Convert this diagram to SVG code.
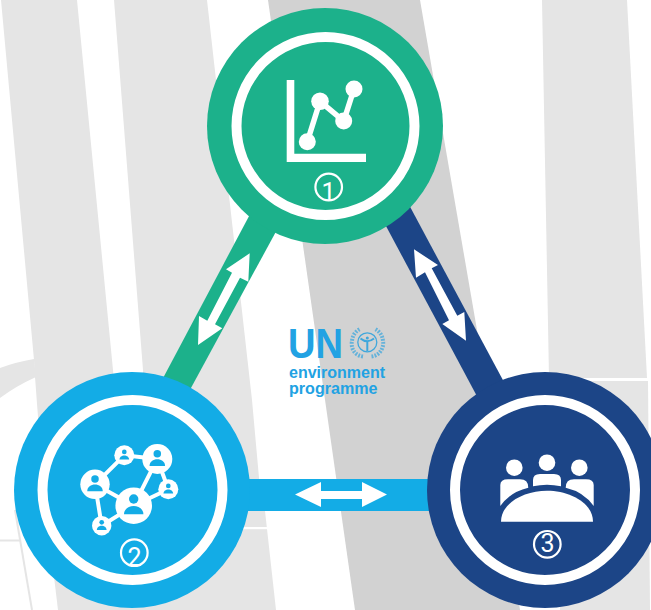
<svg xmlns="http://www.w3.org/2000/svg" width="651" height="610" viewBox="0 0 651 610">
<style>
.lg{fill:#e5e5e5}.dg{fill:#d2d2d2}
.ring{fill:none;stroke:#fff;stroke-width:10}
.w{fill:#fff}
.ln{stroke:#fff;fill:none}
.numc{fill:none;stroke:#fff;stroke-width:2.200}
.num{font-family:"Roboto","Liberation Sans",sans-serif;font-weight:400;font-size:25px;fill:#fff;text-anchor:middle}
.logo{font-family:"Liberation Sans",Arial,sans-serif;font-weight:700;fill:#22a2e3}
.em{fill:none;stroke:#3fa7dc}
</style>
<defs>
<g id="person"><circle cx="0" cy="-6.7" r="4.7" fill="#13ace6"/><path d="M-9.7 8.6C-9.7 3.4-5 .3 0 .3S9.7 3.4 9.7 8.6Z" fill="#13ace6"/></g>
</defs>
<rect width="651" height="610" fill="#fff"/>
<g id="background">
<polygon class="lg" points="1,0 77,0 113,370 122,470 42,470 35,377 34,360"/>
<path class="lg" d="M0 368Q16 362 34 359L36 377Q16 386 0 398Z"/>
<polygon class="lg" points="114,0 207,0 252,400 262,511 150,511 143,370"/>
<polygon class="lg" points="46,510 265,511 276,610 58,610"/>
<rect x="238" y="527" width="29" height="2.200" fill="#fff"/>
<path d="M15 510L32 610" fill="none" stroke="#e5e5e5" stroke-width="2"/>
<path d="M0 540.500H20" fill="none" stroke="#e5e5e5" stroke-width="2"/>
<polygon class="dg" points="268,0 420,0 477,330 520,610 355,610"/>
<polygon class="lg" points="542,0 627,0 647,378 549,378"/>
<polygon class="lg" points="549,381 648,381 650,610 560,610"/>
</g>
<g id="connectors">
<polygon fill="#1cb18b" points="265,186 291,204 179,410 153,397"/>
<polygon fill="#1c4587" points="371,198 400,188 520,412 487,415"/>
<rect x="240" y="479" width="200" height="32" fill="#13ace6"/>
<polygon class="w" points="249.700,253.300 248.300,281.700 240,277.700 215,324.300 222.300,328.300 198,345 199,316 207.300,320.700 232,272.700 226,269.300"/>
<polygon class="w" points="414,249.300 438,265 431.700,268.300 457.300,315.700 464.300,312 466,340.700 442.300,324 449,320.300 425,272.300 416,277.700"/>
<polygon class="w" points="295,494.500 321,482 321,491 362,491 362,482 387,494.500 362,507 362,499 321,499 321,507"/>
</g>
<g id="node-1">
<circle cx="325" cy="126" r="118" fill="#1cb18b"/>
<circle class="ring" cx="325.500" cy="126" r="89"/>
<path class="w" d="M286.700 80H294.300V153.700H366V162H286.700Z"/>
<polyline class="ln" stroke-width="5.500" points="307.300,141.700 320,101.300 343.700,121 354,89"/>
<circle class="w" cx="307.300" cy="141.700" r="8.500"/>
<circle class="w" cx="320" cy="101.300" r="8.800"/>
<circle class="w" cx="343.700" cy="121" r="8.500"/>
<circle class="w" cx="354" cy="89" r="8.500"/>
<circle class="numc" cx="328.700" cy="187" r="13.300"/>
<text class="num" x="328.500" y="201">1</text>
</g>
<g id="node-2">
<circle cx="132" cy="490" r="118" fill="#13ace6"/>
<circle class="ring" cx="132.500" cy="490" r="90"/>
<path class="ln" stroke-width="4" d="M95 484.300L124.300 455.300L157.300 459L133.700 505.700L168.300 489.300L157.300 459M95 484.300L133.700 505.700L101.700 525.700L95 484.300"/>
<circle class="w" cx="133.700" cy="505.700" r="18.300"/>
<circle class="w" cx="95" cy="484.300" r="14.700"/>
<circle class="w" cx="157.300" cy="459" r="15"/>
<circle class="w" cx="124.300" cy="455.300" r="10"/>
<circle class="w" cx="168.300" cy="489.300" r="10"/>
<circle class="w" cx="101.700" cy="525.700" r="9.700"/>
<use href="#person" transform="translate(133.700 505.700)"/>
<use href="#person" transform="translate(95 484.300) scale(.8)"/>
<use href="#person" transform="translate(157.300 459) scale(.8)"/>
<use href="#person" transform="translate(124.300 455.300) scale(.5)"/>
<use href="#person" transform="translate(168.300 489.300) scale(.5)"/>
<use href="#person" transform="translate(101.700 525.700) scale(.5)"/>
<circle class="numc" cx="134.300" cy="552.700" r="13.300"/>
<text class="num" x="134.500" y="566">2</text>
</g>
<g id="node-3">
<circle cx="545" cy="490" r="118" fill="#1c4587"/>
<circle class="ring" cx="545" cy="490" r="90"/>
<circle class="w" cx="514.300" cy="467.700" r="8.300"/>
<circle class="w" cx="547" cy="462.700" r="8.300"/>
<circle class="w" cx="579.300" cy="467.700" r="8.300"/>
<path class="w" d="M500.300 506V485Q500.300 479.300 508 479.300H520Q528.300 479.300 528.300 487.700Q510 492 500.300 506Z"/>
<path class="w" d="M533 486.300V480Q533 474 540 474H554Q561 474 561 480V486.300Q547 483 533 486.300Z"/>
<path class="w" d="M593.700 506V485Q593.700 479.300 586 479.300H574Q565.700 479.300 565.700 487.700Q584 492 593.700 506Z"/>
<path class="w" d="M501 521.700H593C593 503 570 490.700 547 490.700S501 503 501 521.700Z"/>
<circle class="numc" cx="547.300" cy="544.300" r="13.300"/>
<text class="num" x="547.500" y="552">3</text>
</g>
<g id="logo">
<text class="logo" x="288" y="357.500" font-size="43" textLength="55" lengthAdjust="spacingAndGlyphs">UN</text>
<text class="logo" x="289" y="378" font-size="16" textLength="96" lengthAdjust="spacingAndGlyphs">environment</text>
<text class="logo" x="289" y="393.500" font-size="16" textLength="88.500" lengthAdjust="spacingAndGlyphs">programme</text>
<circle class="em" cx="367.300" cy="342.300" r="9.500" stroke-width="1.300"/>
<path class="em" stroke-width="4" stroke-dasharray="1.800 1.300" opacity=".75" d="M363 356.500C352 355 351 345 352 341C352.500 335 356 331 360 329M371.500 356.500C382 355 384 345 383 341C382.500 335 379 331 375 329"/>
<path class="em" stroke-width="2" d="M360.500 338.500Q367 344 374 338.500M367.300 341V351"/>
<circle cx="367.300" cy="338" r="1.500" fill="#3fa7dc"/>
</g>
</svg>
